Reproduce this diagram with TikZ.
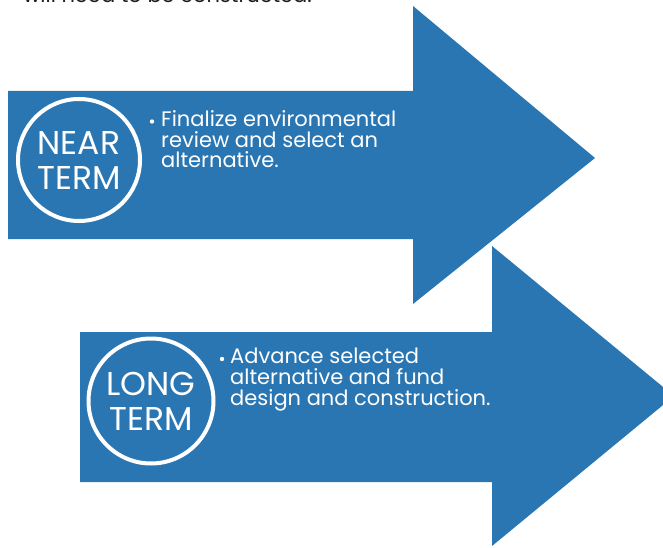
\documentclass[tikz,border=0pt]{standalone}
\usepackage{fontspec}
\setmainfont{Poppins}
\definecolor{arrowblue}{HTML}{2A76B2}
\definecolor{headgray}{HTML}{1E1E1E}
\begin{document}
\begin{tikzpicture}[x=1pt,y=-1pt,
  bigarrow/.style={fill=arrowblue,draw=none},
  termring/.style={circle,draw=white,line width=4pt,text=white,
    align=center,inner sep=0pt,font=\fontsize{33}{35}\selectfont},
  bullettext/.style={anchor=base west,text=white,align=left,inner sep=0pt},
  dot/.style={circle,fill=white,inner sep=0pt,minimum size=4.4pt}]
\useasboundingbox (0,0) rectangle (663,548);
\begin{scope}
\clip (0,0) rectangle (663,548);
% heading line, mostly above the page edge
\node[anchor=base west,inner sep=0pt,text=headgray,font=\fontsize{21}{21}\selectfont]
  (head) at (23,2.5) {will need to be constructed.};
% first arrow
\path[bigarrow] (8,91) -- (413,91) -- (413,6) -- (595,158) -- (413,304)
  -- (413,239) -- (8,239) -- cycle;
% second arrow, tip runs past the right edge
\path[bigarrow] (80,332) -- (492,332) -- (492,246) -- (674,396) -- (492,546)
  -- (492,482) -- (80,482) -- cycle;
\end{scope}
% near term (bullet text anchored at the baseline of its last line)
\node[termring,minimum size=122pt] (near) at (79,160) {NEAR\\TERM};
\node[dot] (neardot) at (152,121.5) {};
\node[bullettext,font=\fontsize{21}{20.5}\selectfont] (neartext) at (161,167.7)
  {Finalize environmental\\review and select an\\alternative.};
% long term
\node[termring,minimum size=125pt] (long) at (151,401) {LONG\\TERM};
\node[dot] (longdot) at (222,359) {};
\node[bullettext,font=\fontsize{21}{21.3}\selectfont] (longtext) at (230,405.9)
  {Advance selected\\alternative and fund\\design and construction.};
\end{tikzpicture}
\end{document}
